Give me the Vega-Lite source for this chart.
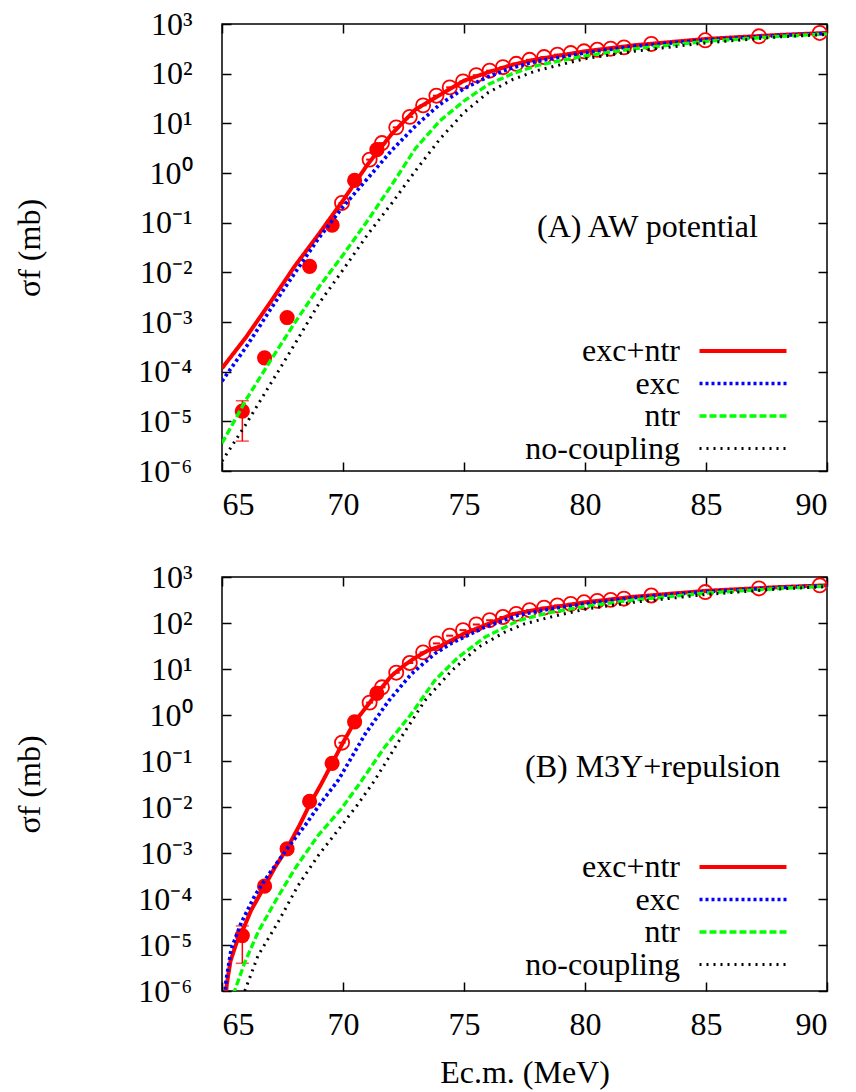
{
  "$schema": "https://vega.github.io/schema/vega-lite/v6.json",
  "background": "white",
  "padding": {"left": 12, "top": 7, "right": 10, "bottom": 5},
  "config": {
    "font": "Liberation Serif",
    "view": {"stroke": "black", "strokeWidth": 1.5},
    "axis": {"grid": false, "domain": false, "tickColor": "black", "tickWidth": 1.5, "tickSize": -9,
      "labelFont": "Liberation Serif", "labelFontSize": 32, "labelColor": "black",
      "titleFont": "Liberation Serif", "titleFontSize": 32, "titleFontWeight": "normal", "titleColor": "black"},
    "legend": {"labelFont": "Liberation Serif", "labelFontSize": 32, "labelColor": "black"},
    "title": {"font": "Liberation Serif", "fontSize": 32, "fontWeight": "normal", "color": "black"},
    "style": {"guide-label": {"font": "Liberation Serif"}, "guide-title": {"font": "Liberation Serif"}, "group-title": {"font": "Liberation Serif"}}
  },
  "datasets": {
    "exp": [
      {"E": 65.84, "sigma": 1.6e-5, "lo": 4.0e-6, "hi": 2.6e-5},
      {"E": 66.76, "sigma": 1.9e-4},
      {"E": 67.69, "sigma": 1.23e-3},
      {"E": 68.62, "sigma": 0.0132},
      {"E": 69.55, "sigma": 0.089},
      {"E": 70.48, "sigma": 0.71},
      {"E": 71.40, "sigma": 2.95}
    ],
    "expo": [
      {"E": 69.96, "sigma": 0.25}, {"E": 71.10, "sigma": 1.86}, {"E": 71.61, "sigma": 4.0},
      {"E": 72.20, "sigma": 8.3}, {"E": 72.76, "sigma": 13.5}, {"E": 73.31, "sigma": 23},
      {"E": 73.86, "sigma": 36}, {"E": 74.41, "sigma": 53}, {"E": 74.96, "sigma": 70},
      {"E": 75.51, "sigma": 93}, {"E": 76.06, "sigma": 115}, {"E": 76.61, "sigma": 135},
      {"E": 77.16, "sigma": 158}, {"E": 77.71, "sigma": 190}, {"E": 78.31, "sigma": 216},
      {"E": 78.86, "sigma": 241}, {"E": 79.41, "sigma": 260}, {"E": 79.96, "sigma": 282},
      {"E": 80.51, "sigma": 303}, {"E": 81.06, "sigma": 318}, {"E": 81.61, "sigma": 338},
      {"E": 82.74, "sigma": 396}, {"E": 84.97, "sigma": 470}, {"E": 87.19, "sigma": 565},
      {"E": 89.70, "sigma": 660}
    ],
    "curvesA": [
      {"series": "exc+ntr", "E": 65, "sigma": 1.17e-4}, {"series": "exc+ntr", "E": 66, "sigma": 5.0e-4},
      {"series": "exc+ntr", "E": 67, "sigma": 2.5e-3}, {"series": "exc+ntr", "E": 68, "sigma": 0.0132},
      {"series": "exc+ntr", "E": 69, "sigma": 0.0589}, {"series": "exc+ntr", "E": 70, "sigma": 0.28},
      {"series": "exc+ntr", "E": 71, "sigma": 1.45}, {"series": "exc+ntr", "E": 72, "sigma": 6.0},
      {"series": "exc+ntr", "E": 73, "sigma": 19.1}, {"series": "exc+ntr", "E": 74, "sigma": 37.2},
      {"series": "exc+ntr", "E": 75, "sigma": 72.4}, {"series": "exc+ntr", "E": 76, "sigma": 107},
      {"series": "exc+ntr", "E": 77, "sigma": 151}, {"series": "exc+ntr", "E": 78, "sigma": 195},
      {"series": "exc+ntr", "E": 80, "sigma": 282}, {"series": "exc+ntr", "E": 82, "sigma": 372},
      {"series": "exc+ntr", "E": 85, "sigma": 501}, {"series": "exc+ntr", "E": 88, "sigma": 603},
      {"series": "exc+ntr", "E": 90, "sigma": 661},
      {"series": "exc", "E": 65, "sigma": 6.46e-5}, {"series": "exc", "E": 66, "sigma": 3.16e-4},
      {"series": "exc", "E": 67, "sigma": 1.78e-3}, {"series": "exc", "E": 68, "sigma": 9.55e-3},
      {"series": "exc", "E": 69, "sigma": 0.049}, {"series": "exc", "E": 70, "sigma": 0.209},
      {"series": "exc", "E": 71, "sigma": 0.759}, {"series": "exc", "E": 72, "sigma": 2.82},
      {"series": "exc", "E": 73, "sigma": 8.91}, {"series": "exc", "E": 74, "sigma": 24.0},
      {"series": "exc", "E": 75, "sigma": 50.1}, {"series": "exc", "E": 76, "sigma": 87.1},
      {"series": "exc", "E": 77, "sigma": 132}, {"series": "exc", "E": 78, "sigma": 178},
      {"series": "exc", "E": 80, "sigma": 263}, {"series": "exc", "E": 82, "sigma": 355},
      {"series": "exc", "E": 85, "sigma": 479}, {"series": "exc", "E": 88, "sigma": 589},
      {"series": "exc", "E": 90, "sigma": 646},
      {"series": "ntr", "E": 65, "sigma": 3.63e-6}, {"series": "ntr", "E": 66, "sigma": 2.75e-5},
      {"series": "ntr", "E": 67, "sigma": 1.66e-4}, {"series": "ntr", "E": 68, "sigma": 9.55e-4},
      {"series": "ntr", "E": 69, "sigma": 5.01e-3}, {"series": "ntr", "E": 70, "sigma": 0.0224},
      {"series": "ntr", "E": 71, "sigma": 0.107}, {"series": "ntr", "E": 72, "sigma": 0.562},
      {"series": "ntr", "E": 73, "sigma": 3.16}, {"series": "ntr", "E": 74, "sigma": 11.2},
      {"series": "ntr", "E": 75, "sigma": 28.2}, {"series": "ntr", "E": 76, "sigma": 60.3},
      {"series": "ntr", "E": 77, "sigma": 100}, {"series": "ntr", "E": 78, "sigma": 145},
      {"series": "ntr", "E": 80, "sigma": 229}, {"series": "ntr", "E": 82, "sigma": 316},
      {"series": "ntr", "E": 85, "sigma": 447}, {"series": "ntr", "E": 88, "sigma": 562},
      {"series": "ntr", "E": 90, "sigma": 631},
      {"series": "no-coupling", "E": 65, "sigma": 1.58e-6}, {"series": "no-coupling", "E": 66, "sigma": 8.91e-6},
      {"series": "no-coupling", "E": 67, "sigma": 5.62e-5}, {"series": "no-coupling", "E": 68, "sigma": 3.55e-4},
      {"series": "no-coupling", "E": 69, "sigma": 2.34e-3}, {"series": "no-coupling", "E": 70, "sigma": 0.0112},
      {"series": "no-coupling", "E": 71, "sigma": 0.0562}, {"series": "no-coupling", "E": 72, "sigma": 0.240},
      {"series": "no-coupling", "E": 73, "sigma": 1.12}, {"series": "no-coupling", "E": 74, "sigma": 4.79},
      {"series": "no-coupling", "E": 75, "sigma": 16.6}, {"series": "no-coupling", "E": 76, "sigma": 41.7},
      {"series": "no-coupling", "E": 77, "sigma": 75.9}, {"series": "no-coupling", "E": 78, "sigma": 115},
      {"series": "no-coupling", "E": 80, "sigma": 200}, {"series": "no-coupling", "E": 82, "sigma": 282},
      {"series": "no-coupling", "E": 85, "sigma": 417}, {"series": "no-coupling", "E": 88, "sigma": 550},
      {"series": "no-coupling", "E": 90, "sigma": 617}
    ],
    "curvesB": [
      {"series": "exc+ntr", "E": 65.1, "sigma": 4.0e-7}, {"series": "exc+ntr", "E": 65.2, "sigma": 1.41e-6},
      {"series": "exc+ntr", "E": 65.35, "sigma": 4.47e-6}, {"series": "exc+ntr", "E": 65.6, "sigma": 1.12e-5},
      {"series": "exc+ntr", "E": 65.84, "sigma": 2.0e-5}, {"series": "exc+ntr", "E": 66.2, "sigma": 5.62e-5},
      {"series": "exc+ntr", "E": 66.76, "sigma": 1.91e-4}, {"series": "exc+ntr", "E": 67.2, "sigma": 5.01e-4},
      {"series": "exc+ntr", "E": 67.69, "sigma": 1.26e-3}, {"series": "exc+ntr", "E": 68.2, "sigma": 3.98e-3},
      {"series": "exc+ntr", "E": 68.62, "sigma": 0.0112}, {"series": "exc+ntr", "E": 69.1, "sigma": 0.0316},
      {"series": "exc+ntr", "E": 69.55, "sigma": 0.0891}, {"series": "exc+ntr", "E": 70, "sigma": 0.251},
      {"series": "exc+ntr", "E": 70.48, "sigma": 0.708}, {"series": "exc+ntr", "E": 71, "sigma": 1.58},
      {"series": "exc+ntr", "E": 71.4, "sigma": 2.95}, {"series": "exc+ntr", "E": 72, "sigma": 7.08},
      {"series": "exc+ntr", "E": 72.5, "sigma": 11.7}, {"series": "exc+ntr", "E": 73, "sigma": 17.8},
      {"series": "exc+ntr", "E": 73.5, "sigma": 25.1}, {"series": "exc+ntr", "E": 74, "sigma": 31.0},
      {"series": "exc+ntr", "E": 75, "sigma": 58.9}, {"series": "exc+ntr", "E": 76, "sigma": 95.5},
      {"series": "exc+ntr", "E": 77, "sigma": 155}, {"series": "exc+ntr", "E": 78, "sigma": 195},
      {"series": "exc+ntr", "E": 80, "sigma": 282}, {"series": "exc+ntr", "E": 82, "sigma": 372},
      {"series": "exc+ntr", "E": 85, "sigma": 501}, {"series": "exc+ntr", "E": 88, "sigma": 603},
      {"series": "exc+ntr", "E": 90, "sigma": 661},
      {"series": "exc", "E": 65.1, "sigma": 7.94e-7}, {"series": "exc", "E": 65.18, "sigma": 1.82e-6},
      {"series": "exc", "E": 65.38, "sigma": 8.13e-6}, {"series": "exc", "E": 65.8, "sigma": 3.09e-5},
      {"series": "exc", "E": 66.35, "sigma": 1.17e-4}, {"series": "exc", "E": 66.9, "sigma": 3.24e-4},
      {"series": "exc", "E": 67.73, "sigma": 1.32e-3}, {"series": "exc", "E": 68.42, "sigma": 3.89e-3},
      {"series": "exc", "E": 69.1, "sigma": 0.0126}, {"series": "exc", "E": 69.8, "sigma": 0.038},
      {"series": "exc", "E": 70.4, "sigma": 0.132}, {"series": "exc", "E": 70.92, "sigma": 0.389},
      {"series": "exc", "E": 71.89, "sigma": 2.04}, {"series": "exc", "E": 72.82, "sigma": 7.76},
      {"series": "exc", "E": 73.79, "sigma": 21.4}, {"series": "exc", "E": 74.48, "sigma": 36.3},
      {"series": "exc", "E": 75.86, "sigma": 81.3}, {"series": "exc", "E": 77.23, "sigma": 148},
      {"series": "exc", "E": 78.5, "sigma": 200}, {"series": "exc", "E": 80, "sigma": 263},
      {"series": "exc", "E": 82, "sigma": 355}, {"series": "exc", "E": 85, "sigma": 479},
      {"series": "exc", "E": 88, "sigma": 589}, {"series": "exc", "E": 90, "sigma": 646},
      {"series": "ntr", "E": 65.45, "sigma": 5.01e-7}, {"series": "ntr", "E": 65.52, "sigma": 1.0e-6},
      {"series": "ntr", "E": 65.94, "sigma": 4.17e-6}, {"series": "ntr", "E": 66.49, "sigma": 1.91e-5},
      {"series": "ntr", "E": 67.18, "sigma": 8.51e-5}, {"series": "ntr", "E": 68.0, "sigma": 4.47e-4},
      {"series": "ntr", "E": 68.97, "sigma": 2.40e-3}, {"series": "ntr", "E": 69.93, "sigma": 9.12e-3},
      {"series": "ntr", "E": 70.7, "sigma": 0.0331}, {"series": "ntr", "E": 71.72, "sigma": 0.200},
      {"series": "ntr", "E": 72.82, "sigma": 1.05}, {"series": "ntr", "E": 73.79, "sigma": 5.62},
      {"series": "ntr", "E": 74.75, "sigma": 17.8}, {"series": "ntr", "E": 75.86, "sigma": 49.0},
      {"series": "ntr", "E": 77.23, "sigma": 112}, {"series": "ntr", "E": 78.5, "sigma": 166},
      {"series": "ntr", "E": 80, "sigma": 229}, {"series": "ntr", "E": 82, "sigma": 316},
      {"series": "ntr", "E": 85, "sigma": 447}, {"series": "ntr", "E": 88, "sigma": 562},
      {"series": "ntr", "E": 90, "sigma": 631},
      {"series": "no-coupling", "E": 65.85, "sigma": 5.01e-7}, {"series": "no-coupling", "E": 65.94, "sigma": 1.0e-6},
      {"series": "no-coupling", "E": 66.49, "sigma": 5.89e-6}, {"series": "no-coupling", "E": 67.31, "sigma": 3.09e-5},
      {"series": "no-coupling", "E": 68.14, "sigma": 1.95e-4}, {"series": "no-coupling", "E": 68.97, "sigma": 8.71e-4},
      {"series": "no-coupling", "E": 69.93, "sigma": 3.89e-3}, {"series": "no-coupling", "E": 70.6, "sigma": 0.0112},
      {"series": "no-coupling", "E": 71.3, "sigma": 0.0372}, {"series": "no-coupling", "E": 72.4, "sigma": 0.324},
      {"series": "no-coupling", "E": 73.38, "sigma": 2.04}, {"series": "no-coupling", "E": 74.48, "sigma": 9.12},
      {"series": "no-coupling", "E": 75.58, "sigma": 29.5}, {"series": "no-coupling", "E": 76.68, "sigma": 63.1},
      {"series": "no-coupling", "E": 77.5, "sigma": 95.5}, {"series": "no-coupling", "E": 78.5, "sigma": 132},
      {"series": "no-coupling", "E": 80, "sigma": 200}, {"series": "no-coupling", "E": 82, "sigma": 282},
      {"series": "no-coupling", "E": 85, "sigma": 417}, {"series": "no-coupling", "E": 88, "sigma": 550},
      {"series": "no-coupling", "E": 90, "sigma": 617}
    ]
  },
  "bounds": "flush",
  "spacing": 106,
  "resolve": {"legend": {"color": "independent", "strokeDash": "independent", "strokeWidth": "independent"}},
  "vconcat": [
    {
      "width": 605,
      "height": 447,
      "title": {"text": "(A) AW potential", "anchor": "start", "frame": "group", "orient": "top", "offset": 0, "dx": 315, "dy": 261, "baseline": "alphabetic", "font": "Liberation Serif"},
      "layer": [
        {
          "data": {"name": "exp"},
          "mark": {"type": "point", "shape": "circle", "filled": true, "size": 230, "color": "#ff0000", "opacity": 1},
          "encoding": {
            "x": {"field": "E", "type": "quantitative", "scale": {"domain": [65, 90], "nice": false, "zero": false},
              "axis": {"orient": "bottom", "values": [65, 70, 75, 80, 85, 90], "title": null, "labelPadding": 27, "labelFont": "Liberation Serif"}},
            "y": {"field": "sigma", "type": "quantitative", "scale": {"type": "log", "domain": [1e-6, 1000], "nice": false},
              "axis": {"orient": "left", "values": [1e-6, 1e-5, 1e-4, 1e-3, 1e-2, 1e-1, 1, 10, 100, 1000], "labelPadding": 39, "labelFont": "Liberation Serif",
                "labelExpr": "['10⁻⁶','10⁻⁵','10⁻⁴','10⁻³','10⁻²','10⁻¹','10⁰','10¹','10²','10³'][round(log(datum.value)/LN10)+6]",
                "title": "σf (mb)", "titleFont": "Liberation Serif", "titleX": -193, "titleBaseline": "middle"}}
          }
        },
        {
          "data": {"name": "exp"},
          "transform": [{"filter": "isValid(datum.lo)"}],
          "mark": {"type": "errorbar", "color": "#ff0000", "thickness": 1.5, "ticks": {"size": 13, "thickness": 1.5, "color": "#ff0000"}},
          "encoding": {
            "x": {"field": "E", "type": "quantitative", "axis": null},
            "y": {"field": "lo", "type": "quantitative", "axis": null},
            "y2": {"field": "hi"}
          }
        },
        {
          "data": {"name": "expo"},
          "mark": {"type": "point", "shape": "circle", "filled": false, "size": 200, "color": "#ff0000", "strokeWidth": 1.8, "opacity": 1},
          "encoding": {
            "x": {"field": "E", "type": "quantitative", "axis": {"orient": "top", "values": [65, 70, 75, 80, 85, 90], "labels": false, "title": null}},
            "y": {"field": "sigma", "type": "quantitative", "axis": {"orient": "right", "values": [1e-6, 1e-5, 1e-4, 1e-3, 1e-2, 1e-1, 1, 10, 100, 1000], "labels": false, "title": null}}
          }
        },
        {
          "data": {"name": "expo"},
          "mark": {"type": "tick", "orient": "horizontal", "size": 7, "thickness": 2, "color": "#ff0000", "opacity": 1},
          "encoding": {
            "x": {"field": "E", "type": "quantitative", "axis": null},
            "y": {"field": "sigma", "type": "quantitative", "axis": null}
          }
        },
        {
          "data": {"name": "curvesA"},
          "mark": {"type": "line", "clip": true},
          "encoding": {
            "x": {"field": "E", "type": "quantitative", "axis": null},
            "y": {"field": "sigma", "type": "quantitative", "axis": null},
            "color": {"field": "series", "type": "nominal",
              "scale": {"domain": ["exc+ntr", "exc", "ntr", "no-coupling"], "range": ["#ff0000", "#0000ff", "#00ff00", "#000000"]},
              "legend": {"orient": "none", "legendX": 478, "legendY": 311, "title": null, "direction": "vertical",
                "symbolType": "M-4.35,0H4.35", "symbolSize": 400, "symbolOffset": 27, "labelAlign": "right", "labelOffset": -79,
                "labelFont": "Liberation Serif", "labelFontSize": 32, "labelColor": "black",
                "rowPadding": 0.5, "padding": 0, "labelLimit": 400}},
            "strokeDash": {"field": "series", "type": "nominal",
              "scale": {"domain": ["exc+ntr", "exc", "ntr", "no-coupling"], "range": [[1, 0], [3, 3], [7, 3], [2, 5]]}},
            "strokeWidth": {"field": "series", "type": "nominal",
              "scale": {"domain": ["exc+ntr", "exc", "ntr", "no-coupling"], "range": [4, 3, 3.5, 2]}}
          }
        }
      ],
      "resolve": {"axis": {"x": "independent", "y": "independent"}}
    },
    {
      "width": 605,
      "height": 414,
      "title": {"text": "(B) M3Y+repulsion", "anchor": "start", "frame": "group", "orient": "top", "offset": 0, "dx": 303, "dy": 248, "baseline": "alphabetic", "font": "Liberation Serif"},
      "layer": [
        {
          "data": {"name": "exp"},
          "mark": {"type": "point", "shape": "circle", "filled": true, "size": 230, "color": "#ff0000", "opacity": 1},
          "encoding": {
            "x": {"field": "E", "type": "quantitative", "scale": {"domain": [65, 90], "nice": false, "zero": false},
              "axis": {"orient": "bottom", "values": [65, 70, 75, 80, 85, 90], "title": "Ec.m. (MeV)", "labelPadding": 27, "labelFont": "Liberation Serif", "titleFont": "Liberation Serif", "titleY": 91, "titleBaseline": "alphabetic"}},
            "y": {"field": "sigma", "type": "quantitative", "scale": {"type": "log", "domain": [1e-6, 1000], "nice": false},
              "axis": {"orient": "left", "values": [1e-6, 1e-5, 1e-4, 1e-3, 1e-2, 1e-1, 1, 10, 100, 1000], "labelPadding": 39, "labelFont": "Liberation Serif",
                "labelExpr": "['10⁻⁶','10⁻⁵','10⁻⁴','10⁻³','10⁻²','10⁻¹','10⁰','10¹','10²','10³'][round(log(datum.value)/LN10)+6]",
                "title": "σf (mb)", "titleFont": "Liberation Serif", "titleX": -193, "titleBaseline": "middle"}}
          }
        },
        {
          "data": {"name": "exp"},
          "transform": [{"filter": "isValid(datum.lo)"}],
          "mark": {"type": "errorbar", "color": "#ff0000", "thickness": 1.5, "ticks": {"size": 13, "thickness": 1.5, "color": "#ff0000"}},
          "encoding": {
            "x": {"field": "E", "type": "quantitative", "axis": null},
            "y": {"field": "lo", "type": "quantitative", "axis": null},
            "y2": {"field": "hi"}
          }
        },
        {
          "data": {"name": "expo"},
          "mark": {"type": "point", "shape": "circle", "filled": false, "size": 200, "color": "#ff0000", "strokeWidth": 1.8, "opacity": 1},
          "encoding": {
            "x": {"field": "E", "type": "quantitative", "axis": {"orient": "top", "values": [65, 70, 75, 80, 85, 90], "labels": false, "title": null}},
            "y": {"field": "sigma", "type": "quantitative", "axis": {"orient": "right", "values": [1e-6, 1e-5, 1e-4, 1e-3, 1e-2, 1e-1, 1, 10, 100, 1000], "labels": false, "title": null}}
          }
        },
        {
          "data": {"name": "expo"},
          "mark": {"type": "tick", "orient": "horizontal", "size": 7, "thickness": 2, "color": "#ff0000", "opacity": 1},
          "encoding": {
            "x": {"field": "E", "type": "quantitative", "axis": null},
            "y": {"field": "sigma", "type": "quantitative", "axis": null}
          }
        },
        {
          "data": {"name": "curvesB"},
          "mark": {"type": "line", "clip": true},
          "encoding": {
            "x": {"field": "E", "type": "quantitative", "axis": null},
            "y": {"field": "sigma", "type": "quantitative", "axis": null},
            "color": {"field": "series", "type": "nominal",
              "scale": {"domain": ["exc+ntr", "exc", "ntr", "no-coupling"], "range": ["#ff0000", "#0000ff", "#00ff00", "#000000"]},
              "legend": {"orient": "none", "legendX": 478, "legendY": 274, "title": null, "direction": "vertical",
                "symbolType": "M-4.35,0H4.35", "symbolSize": 400, "symbolOffset": 27, "labelAlign": "right", "labelOffset": -79,
                "labelFont": "Liberation Serif", "labelFontSize": 32, "labelColor": "black",
                "rowPadding": 0.5, "padding": 0, "labelLimit": 400}},
            "strokeDash": {"field": "series", "type": "nominal",
              "scale": {"domain": ["exc+ntr", "exc", "ntr", "no-coupling"], "range": [[1, 0], [3, 3], [7, 3], [2, 5]]}},
            "strokeWidth": {"field": "series", "type": "nominal",
              "scale": {"domain": ["exc+ntr", "exc", "ntr", "no-coupling"], "range": [4, 3, 3.5, 2]}}
          }
        }
      ],
      "resolve": {"axis": {"x": "independent", "y": "independent"}}
    }
  ]
}
